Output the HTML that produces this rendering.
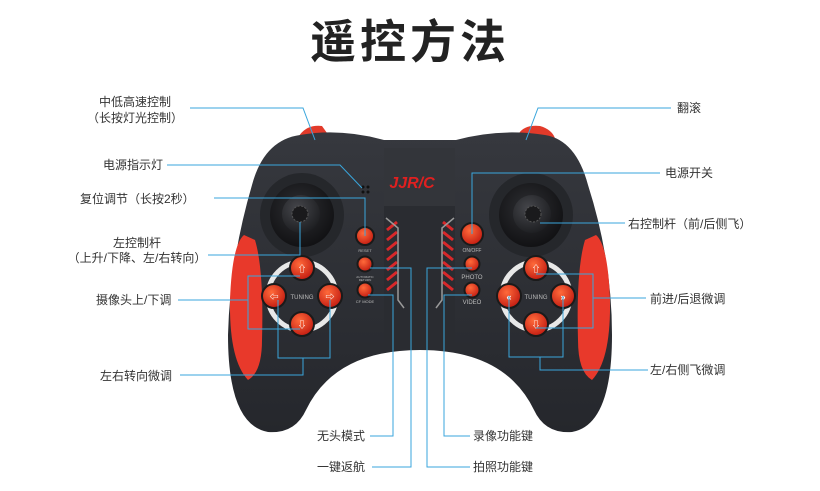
<!DOCTYPE html>
<html><head><meta charset="utf-8"><style>
html,body{margin:0;padding:0;background:#fff;}
svg{display:block;}
text{font-family:"Liberation Sans","Noto Sans CJK SC",sans-serif;}
</style></head><body>
<svg width="820" height="491" viewBox="0 0 820 491" xmlns="http://www.w3.org/2000/svg">
<defs>
<radialGradient id="btn" cx="0.4" cy="0.35" r="0.7"><stop offset="0" stop-color="#ff6a3a"/><stop offset="1" stop-color="#c01810"/></radialGradient>
<radialGradient id="stk" cx="0.45" cy="0.4" r="0.7"><stop offset="0" stop-color="#2e2f33"/><stop offset="1" stop-color="#0d0d0f"/></radialGradient>
<radialGradient id="knob" cx="0.4" cy="0.35" r="0.7"><stop offset="0" stop-color="#45464b"/><stop offset="1" stop-color="#1c1d20"/></radialGradient>
<linearGradient id="body" x1="0" y1="0" x2="0" y2="1"><stop offset="0" stop-color="#36383e"/><stop offset="1" stop-color="#25272c"/></linearGradient>
</defs>
<text x="410" y="58" font-size="46" font-weight="bold" fill="#222" text-anchor="middle" letter-spacing="4">遥控方法</text>

<path d="M296,142 Q303,124 322,126 L332,140 Z" fill="#e23a2a"/>
<path d="M516,140 Q520,124 540,126 Q554,130 556,142 Z" fill="#e23a2a"/>
<path d="M300,135 Q340,128 384,140 L456,140 Q500,128 545,135 Q576,140 588,185 Q612,260 612,335 Q612,425 572,432 Q545,434 534,410 Q505,350 420,350 Q335,350 306,410 Q295,434 268,432 Q228,425 228,335 Q230,260 252,185 Q264,140 300,135 Z" fill="url(#body)"/>
<path d="M244,235 Q232,245 230,300 Q229,360 248,380 Q262,372 262,340 Q264,270 255,240 Z" fill="#e8392b"/>
<path d="M596,235 Q608,245 610,300 Q611,360 592,380 Q578,372 578,340 Q576,270 585,240 Z" fill="#e8392b"/>
<rect x="384" y="148" width="71" height="200" fill="#2a2c31"/>
<rect x="384" y="148" width="71" height="58" fill="#33353a"/>
<text x="412" y="188" font-size="16" font-weight="bold" font-style="italic" fill="#e02020" text-anchor="middle">JJR/C</text>
<g stroke="#d8282a" stroke-width="3">
<line x1="387" y1="230" x2="397" y2="222"/><line x1="387" y1="240" x2="397" y2="232"/><line x1="387" y1="250" x2="397" y2="242"/><line x1="387" y1="260" x2="397" y2="252"/><line x1="387" y1="270" x2="397" y2="262"/><line x1="387" y1="280" x2="397" y2="272"/><line x1="387" y1="290" x2="397" y2="282"/>
<line x1="443" y1="222" x2="453" y2="230"/><line x1="443" y1="232" x2="453" y2="240"/><line x1="443" y1="242" x2="453" y2="250"/><line x1="443" y1="252" x2="453" y2="260"/><line x1="443" y1="262" x2="453" y2="270"/><line x1="443" y1="272" x2="453" y2="280"/><line x1="443" y1="282" x2="453" y2="290"/>
</g>
<path d="M386,218 L398,228 L398,300 L404,308" stroke="#999" stroke-width="1.5" fill="none"/>
<path d="M454,218 L442,228 L442,300 L436,308" stroke="#999" stroke-width="1.5" fill="none"/>
<circle cx="302" cy="215" r="42" fill="#25272b"/>
<circle cx="302" cy="215" r="32" fill="url(#stk)"/>
<circle cx="301" cy="214" r="19" fill="url(#knob)"/>
<circle cx="300" cy="214" r="8" fill="#1a1a1c" stroke="#555" stroke-dasharray="2 1.5"/>
<circle cx="531" cy="215" r="42" fill="#25272b"/>
<circle cx="531" cy="215" r="32" fill="url(#stk)"/>
<circle cx="532" cy="214" r="19" fill="url(#knob)"/>
<circle cx="533" cy="214" r="8" fill="#1a1a1c" stroke="#555" stroke-dasharray="2 1.5"/>
<circle cx="363" cy="187" r="1.5" fill="#111"/><circle cx="368" cy="187" r="1.5" fill="#111"/><circle cx="363" cy="192" r="1.5" fill="#111"/><circle cx="368" cy="192" r="1.5" fill="#111"/>
<circle cx="302" cy="296" r="34" fill="none" stroke="#e8e8e8" stroke-width="5"/>
<circle cx="536" cy="296" r="34" fill="none" stroke="#e8e8e8" stroke-width="5"/>
<g fill="url(#btn)" stroke="#1a1a1a" stroke-width="2">
<circle cx="302" cy="268" r="12"/><circle cx="274" cy="296" r="12"/><circle cx="330" cy="296" r="12"/><circle cx="302" cy="324" r="12"/>
<circle cx="536" cy="268" r="12"/><circle cx="509" cy="296" r="12"/><circle cx="563" cy="296" r="12"/><circle cx="536" cy="324" r="12"/>
<circle cx="365" cy="236" r="9"/><circle cx="365" cy="264" r="7.5"/><circle cx="365" cy="290" r="7.5"/>
<circle cx="472" cy="234" r="11"/><circle cx="472" cy="264" r="7.5"/><circle cx="472" cy="290" r="7.5"/>
</g>
<g fill="#fff" font-size="9" font-weight="bold" text-anchor="middle">
<text x="274" y="300">⇦</text><text x="330" y="300">⇨</text><text x="302" y="272">⇧</text><text x="302" y="328">⇩</text>
<text x="509" y="300">«</text><text x="563" y="300">»</text><text x="536" y="272">⇧</text><text x="536" y="328">⇩</text>
</g>
<g fill="#bbb" font-size="6" text-anchor="middle">
<text x="302" y="299">TUNING</text><text x="536" y="299">TUNING</text>
<text x="365" y="252" font-size="4">RESET</text><text x="365" y="278" font-size="3">AUTOMATIC</text><text x="365" y="281" font-size="3">RETURN</text><text x="365" y="303" font-size="4">CF MODE</text>
<text x="472" y="252" font-size="5">ON/OFF</text><text x="472" y="279" font-size="6">PHOTO</text><text x="472" y="304" font-size="6">VIDEO</text>
</g>
<g stroke="#3aa6dc" stroke-width="1" fill="none">
<path d="M190,108 L303,108 L315,140"/>
<path d="M671,108 L538,108 L526,140"/>
<path d="M167,165 L340,165 L362,188"/>
<path d="M214,198 L365,198 L365,236"/>
<path d="M208,255 L300,255 L300,222"/>
<path d="M178,300 L248,300 M300,276 L248,276 L248,329 L300,329"/>
<path d="M180,375 L303,375 L303,358 M278,300 L278,358 L330,358 L330,300"/>
<path d="M660,173 L472,173 L472,234"/>
<path d="M625,223 L540,223"/>
<path d="M536,274 L593,274 L593,328 L536,328 M593,298 L646,298"/>
<path d="M509,296 L509,357 L563,357 L563,296 M540,357 L540,370 L648,370"/>
<path d="M370,436 L393,436 L393,295 L368,295"/>
<path d="M372,467 L411,467 L411,268 L370,268"/>
<path d="M470,436 L444,436 L444,295 L472,295"/>
<path d="M470,467 L427,467 L427,268 L472,268"/>
</g>
<g font-size="12" fill="#333">
<text x="135" y="106" text-anchor="middle">中低高速控制</text>
<text x="135" y="122" text-anchor="middle">（长按灯光控制）</text>
<text x="103" y="169">电源指示灯</text>
<text x="80" y="203">复位调节（长按2秒）</text>
<text x="137" y="247" text-anchor="middle">左控制杆</text>
<text x="137" y="262" text-anchor="middle">（上升/下降、左/右转向）</text>
<text x="96" y="304">摄像头上/下调</text>
<text x="100" y="380">左右转向微调</text>
<text x="677" y="112">翻滚</text>
<text x="665" y="177">电源开关</text>
<text x="628" y="228">右控制杆（前/后侧飞）</text>
<text x="650" y="303">前进/后退微调</text>
<text x="650" y="374">左/右侧飞微调</text>
<text x="317" y="440">无头模式</text>
<text x="317" y="471">一键返航</text>
<text x="473" y="440">录像功能键</text>
<text x="473" y="471">拍照功能键</text>
</g>
</svg>
</body></html>
